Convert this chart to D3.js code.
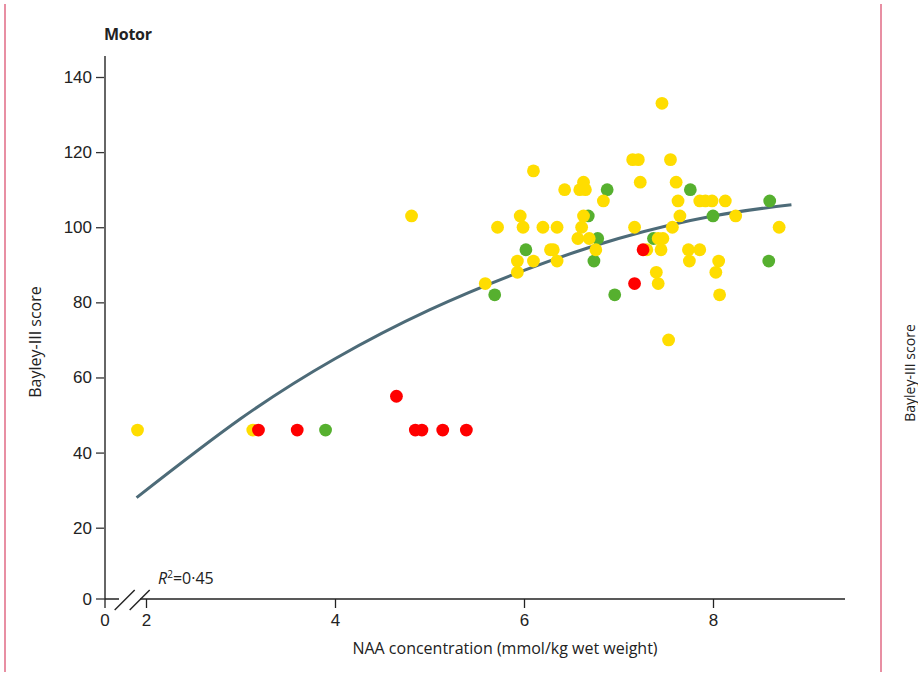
<!DOCTYPE html>
<html lang="en">
<head>
  <meta charset="UTF-8">
  <title>Motor – Bayley-III vs NAA</title>
  <script src="https://d3js.org/d3.v7.min.js"></script>
  <style>
    body {
      margin: 0;
      background: #fff;
      font-family: 'Open Sans', sans-serif;
    }
    svg text { fill: #222; }
    .tick text { font-size: 17px; fill: #222; }
    .axis-title { font-size: 16px; }
    .panel-title { font-size: 16px; font-weight: bold; letter-spacing: -0.3px; }
  </style>
</head>
<body>
  <svg width="918" height="676"></svg>
  <script>
    // NAA concentration (mmol/kg wet weight), Bayley-III motor score
    const yellowPoints = [
      [1.91, 46], [3.13, 46], [4.81, 103], [5.59, 85], [5.72, 100], [5.93, 91], [5.93, 88],
      [5.96, 103], [5.99, 100], [6.10, 115], [6.10, 91], [6.20, 100], [6.28, 94], [6.31, 94],
      [6.35, 100], [6.35, 91], [6.43, 110], [6.57, 97], [6.59, 110], [6.61, 100], [6.63, 112],
      [6.63, 103], [6.65, 110], [6.69, 97], [6.76, 94], [6.84, 107], [7.15, 118], [7.17, 100],
      [7.21, 118], [7.23, 112], [7.30, 94], [7.40, 88], [7.42, 97], [7.42, 85], [7.45, 94],
      [7.46, 133], [7.47, 97], [7.53, 70], [7.55, 118], [7.57, 100], [7.61, 112], [7.63, 107],
      [7.65, 103], [7.74, 94], [7.75, 91], [7.86, 107], [7.86, 94], [7.92, 107], [7.99, 107],
      [8.03, 88], [8.06, 91], [8.07, 82], [8.13, 107], [8.24, 103], [8.70, 100]
    ];
    const greenPoints = [
      [3.90, 46], [5.69, 82], [6.02, 94], [6.68, 103], [6.74, 91], [6.78, 97], [6.88, 110],
      [6.96, 82], [7.37, 97], [7.76, 110], [8.00, 103], [8.59, 91], [8.60, 107]
    ];
    const redPoints = [
      [3.19, 46], [3.60, 46], [4.65, 55], [4.85, 46], [4.92, 46], [5.14, 46], [5.39, 46],
      [7.17, 85], [7.26, 94]
    ];
    // fitted curve
    const fitNAA   = [1.9, 3, 4, 5, 6, 7, 8, 8.83];
    const fitScore = [28, 49, 65, 78, 88.5, 97, 103, 106];

    const xTicks = [2, 4, 6, 8];
    const yTicks = [20, 40, 60, 80, 100, 120, 140];

    const originX = 105, originY = 599, xEnd = 845, yTop = 56;

    const svg = d3.select("svg");

    // page frame lines
    svg.append("line").attr("x1", 5).attr("x2", 5).attr("y1", 4).attr("y2", 672)
      .attr("stroke", "#e06a84").attr("stroke-width", 1.5);
    svg.append("line").attr("x1", 881).attr("x2", 881).attr("y1", 4).attr("y2", 672)
      .attr("stroke", "#e06a84").attr("stroke-width", 1.5);

    const x = d3.scaleLinear().domain([2, 8]).range([146, 713]);
    const y = d3.scaleLinear().domain([20, 140]).range([527.7, 77]);

    // y axis
    const yAxis = svg.append("g")
      .attr("transform", `translate(${originX},0)`)
      .call(d3.axisLeft(y).tickValues(yTicks).tickSize(9).tickPadding(4));
    yAxis.select(".domain").remove();
    yAxis.selectAll(".tick line").attr("stroke", "#333").attr("stroke-width", 1.3);
    yAxis.append("line").attr("x1", 0).attr("x2", 0).attr("y1", yTop).attr("y2", originY)
      .attr("stroke", "#666").attr("stroke-width", 2);
    // zero on y
    yAxis.append("line").attr("x1", -9).attr("x2", 0).attr("y1", originY).attr("y2", originY)
      .attr("stroke", "#333").attr("stroke-width", 1.3);
    yAxis.append("text").attr("x", -13).attr("y", originY).attr("dy", "0.35em")
      .attr("text-anchor", "end").style("font-size", "17px").text("0");

    // x axis
    const xAxis = svg.append("g")
      .attr("transform", `translate(0,${originY})`)
      .call(d3.axisBottom(x).tickValues(xTicks).tickSize(9).tickPadding(6).tickFormat(d3.format("d")));
    xAxis.select(".domain").remove();
    xAxis.selectAll(".tick line").attr("stroke", "#222").attr("stroke-width", 1.3);
    xAxis.append("line").attr("x1", originX).attr("x2", 119).attr("y1", 0).attr("y2", 0)
      .attr("stroke", "#222").attr("stroke-width", 1.5);
    xAxis.append("line").attr("x1", 140).attr("x2", xEnd).attr("y1", 0).attr("y2", 0)
      .attr("stroke", "#222").attr("stroke-width", 1.5);
    xAxis.append("line").attr("x1", originX).attr("x2", originX).attr("y1", 0).attr("y2", 9)
      .attr("stroke", "#222").attr("stroke-width", 1.3);
    xAxis.append("text").attr("x", originX).attr("y", 15).attr("dy", "0.71em")
      .attr("text-anchor", "middle").style("font-size", "17px").text("0");
    // axis break slashes
    [124.7, 139.7].forEach(cx => {
      xAxis.append("line")
        .attr("x1", cx - 10).attr("y1", 11).attr("x2", cx + 10).attr("y2", -9)
        .attr("stroke", "#222").attr("stroke-width", 1.4);
    });

    // fitted curve
    const fit = fitNAA.map((v, i) => [v, fitScore[i]]);
    svg.append("path")
      .datum(fit)
      .attr("fill", "none")
      .attr("stroke", "#4d6b78")
      .attr("stroke-width", 3)
      .attr("d", d3.line().x(d => x(d[0])).y(d => y(d[1])).curve(d3.curveNatural));

    // points: green under yellow, red on top
    const groups = [
      { data: greenPoints, color: "#56b02f" },
      { data: yellowPoints, color: "#ffdd00" },
      { data: redPoints, color: "#ff0000" }
    ];
    groups.forEach(g => {
      svg.append("g").selectAll("circle")
        .data(g.data)
        .enter()
        .append("circle")
        .attr("cx", d => x(d[0]))
        .attr("cy", d => y(d[1]))
        .attr("r", 6.4)
        .attr("fill", g.color);
    });

    // R squared
    const r2 = svg.append("text").attr("x", 158).attr("y", 584).style("font-size", "16px");
    r2.append("tspan").style("font-style", "italic").text("R");
    r2.append("tspan").attr("dy", -6).style("font-size", "10px").text("2");
    r2.append("tspan").attr("dy", 6).text("=0·45");

    // titles
    svg.append("text").attr("class", "panel-title").attr("x", 104).attr("y", 40).text("Motor");

    svg.append("text").attr("class", "axis-title")
      .attr("x", 505).attr("y", 654)
      .attr("text-anchor", "middle")
      .text("NAA concentration (mmol/kg wet weight)");

    svg.append("text").attr("class", "axis-title")
      .attr("transform", "translate(41,342) rotate(-90)")
      .attr("text-anchor", "middle")
      .text("Bayley-III score");

    svg.append("text").attr("class", "axis-title")
      .attr("transform", "translate(915,373) rotate(-90)")
      .attr("text-anchor", "middle")
      .style("font-size", "14px")
      .text("Bayley-III score");
  </script>
</body>
</html>
